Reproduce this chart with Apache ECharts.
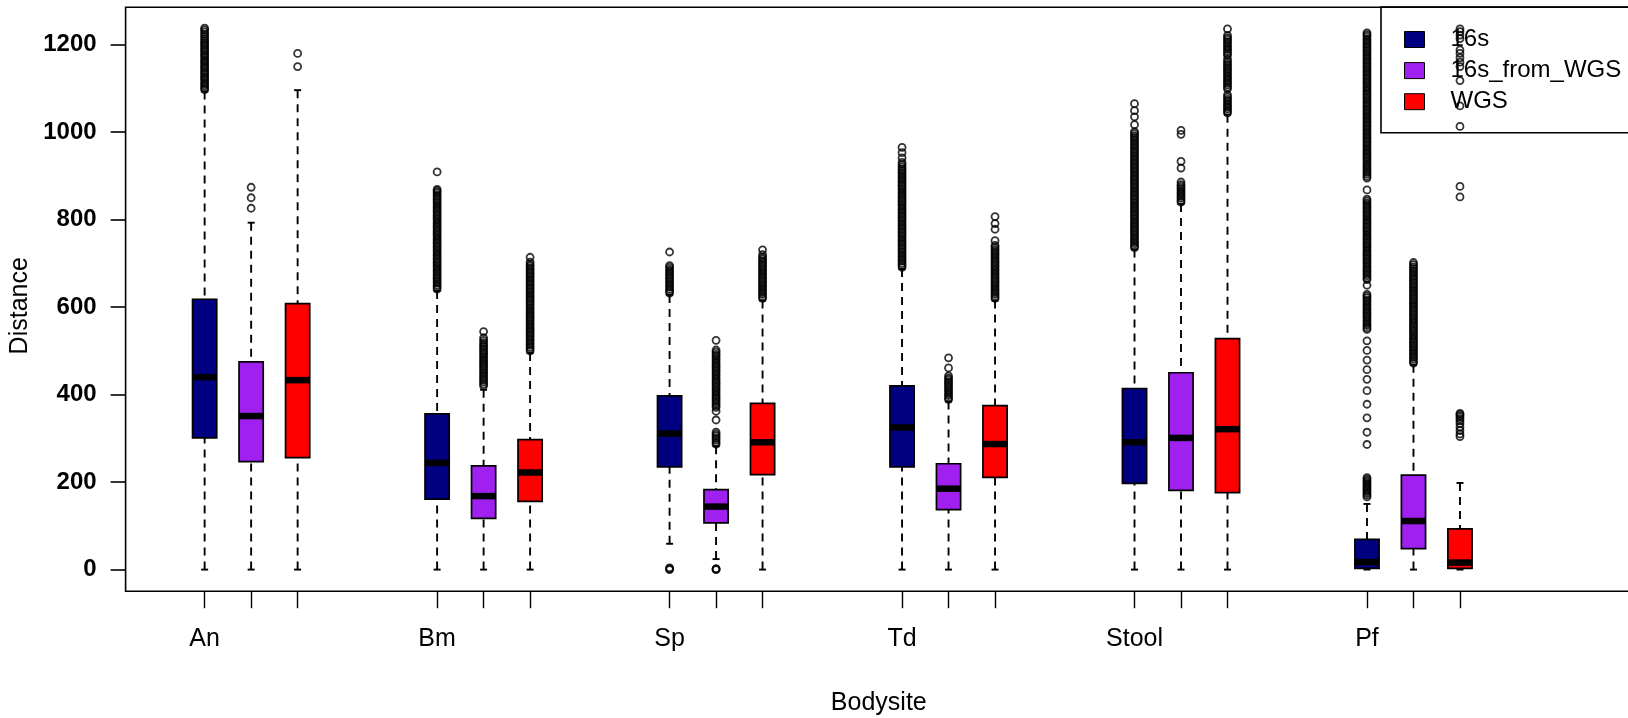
<!DOCTYPE html>
<html>
<head>
<meta charset="utf-8">
<title>Distance by Bodysite</title>
<script src="https://cdn.jsdelivr.net/npm/echarts@6/dist/echarts.min.js"></script>
<style>
  html, body { margin: 0; padding: 0; background: #fff; }
  #chart { width: 1628px; height: 718px; }
</style>
</head>
<body>
<div id="chart"></div>
<script>
// ---- data -------------------------------------------------------------
const bodysites = ['An', 'Bm', 'Sp', 'Td', 'Stool', 'Pf'];
const methods = ['16s', '16s_from_WGS', 'WGS'];
const yTicks = [0, 200, 400, 600, 800, 1000, 1200];

// five-number summaries per bodysite: [lower whisker, Q1, median, Q3, upper whisker]
const stats16s = [
  [0, 301, 440, 618, 1093],
  [0, 161, 244, 356, 637],
  [59, 235, 311, 397, 628],
  [0, 235, 325, 420, 687],
  [0, 197, 291, 414, 732],
  [0, 3, 17, 69, 150]
];
const statsFromWgs = [
  [0, 247, 351, 475, 793],
  [0, 117, 168, 237, 411],
  [24, 107, 144, 183, 282],
  [0, 137, 185, 242, 384],
  [0, 181, 301, 450, 836],
  [0, 48, 111, 216, 468]
];
const statsWgs = [
  [0, 256, 433, 608, 1096],
  [0, 156, 222, 297, 495],
  [0, 217, 291, 380, 615],
  [0, 211, 287, 375, 615],
  [0, 176, 321, 528, 1040],
  [0, 3, 16, 93, 198]
];

// outlying distances per bodysite
const outliers16s = [
  [1097,1101,1106,1110,1114,1119,1123,1127,1132,1136,1140,1145,1149,1153,1158,1162,1166,1171,1175,1179,1184,1188,1192,1197,1201,1205,1210,1214,1219,1224,1229,1234,1238],
  [641,646,650,655,659,664,668,673,677,682,686,691,695,700,704,709,713,718,722,727,731,736,740,745,749,754,758,763,767,772,776,781,785,790,794,799,803,808,812,817,821,826,830,835,839,844,848,853,857,862,866,869,909],
  [0,2,4,632,637,641,646,650,655,659,664,668,673,677,682,686,691,695,726],
  [691,696,700,705,709,714,718,723,727,732,736,741,745,750,754,759,763,768,772,777,781,786,790,795,799,804,808,813,817,822,826,831,835,840,844,849,853,858,862,867,871,876,880,885,889,894,898,903,907,912,916,921,926,931,941,953,965],
  [736,740,745,749,754,758,763,767,772,776,781,785,790,794,799,803,808,812,817,821,826,830,835,839,844,848,853,857,862,866,871,875,880,884,889,893,898,902,907,911,916,920,925,929,934,938,943,947,952,956,961,965,970,974,979,983,988,992,997,1001,1017,1035,1049,1065],
  [166,170,174,178,182,186,190,194,198,202,206,210,
   286,314,347,378,409,435,457,479,501,523,
   549,553,558,562,567,571,576,580,585,589,594,598,603,607,612,616,621,625,629,650,
   663,667,672,676,681,685,690,694,699,703,708,712,717,721,726,730,735,739,744,748,753,757,762,766,771,775,780,784,789,793,798,802,807,811,816,820,825,829,834,838,843,847,868,
   895,899,904,908,913,917,922,926,931,935,940,944,949,953,958,962,967,971,976,980,985,989,994,998,1003,1007,1012,1016,1021,1025,1030,1034,1039,1043,1048,1052,1057,1061,1066,1070,1075,1079,1084,1088,1093,1097,1102,1106,1111,1115,1120,1124,1129,1133,1138,1142,1147,1151,1156,1160,1165,1169,1174,1178,1183,1187,1192,1196,1201,1205,1210,1214,1219,1223,1227]
];
const outliersFromWgs = [
  [826,850,874],
  [420,424,429,433,438,442,447,451,456,460,465,469,474,478,483,487,492,496,501,505,510,514,519,524,530,544],
  [0,1,2,287,291,296,300,305,309,314,342,362,371,375,380,384,389,393,398,402,407,411,416,420,425,429,434,438,443,447,452,456,461,465,470,474,479,483,488,492,497,502,524],
  [389,393,398,402,407,411,416,420,425,429,434,438,443,461,484],
  [840,844,849,853,858,862,867,871,876,880,886,918,933,995,1004],
  [472,476,481,485,490,494,499,503,508,512,517,521,526,530,535,539,544,548,553,557,562,566,571,575,580,584,589,593,598,602,607,611,616,620,625,629,634,638,643,647,652,656,661,665,670,674,679,683,688,692,697,702]
];
const outliersWgs = [
  [1150,1180],
  [500,505,509,514,518,523,527,532,536,541,545,550,554,559,563,568,572,577,581,586,590,595,599,604,608,613,617,622,626,631,635,640,644,649,653,658,662,667,671,676,680,685,689,694,698,703,714],
  [620,624,629,633,638,642,647,651,656,660,665,669,674,678,683,687,692,696,701,705,710,714,720,731],
  [620,624,629,633,638,642,647,651,656,660,665,669,674,678,683,687,692,696,701,705,710,714,719,723,728,732,737,741,752,778,791,807],
  [1044,1048,1053,1057,1062,1066,1071,1075,1080,1085,1099,1103,1108,1112,1117,1121,1126,1130,1135,1139,1144,1148,1153,1157,1162,1167,1176,1180,1185,1189,1194,1198,1203,1207,1212,1216,1221,1236],
  [304,310,318,326,334,340,345,350,354,357,852,876,1013,1060,1118,1150,1160,1170,1180,1188,1214,1222,1230,1236]
];

const allStats = [stats16s, statsFromWgs, statsWgs];
const allOutliers = [outliers16s, outliersFromWgs, outliersWgs];

// ---- layout & style -----------------------------------------------------
const colors = ['#000080', '#A020F0', '#FF0000'];
const GROUP_STEP = 5;        // boxes one unit apart, bodysites five units apart
const BOX_WIDTH = 0.52;      // in x-axis units
const FONT = "'Liberation Sans', Arial, Helvetica, sans-serif";

const positionOf = (siteIdx, methodIdx) => siteIdx * GROUP_STEP + methodIdx + 1;
const tickPositions = [];
bodysites.forEach((_, s) => methods.forEach((__, m) => tickPositions.push(positionOf(s, m))));
const labelPositions = bodysites.map((_, s) => positionOf(s, 0));

function renderBox(params, api) {
  const x = api.value(0);
  const lo = api.coord([x, api.value(1)]);
  const q1 = api.coord([x, api.value(2)]);
  const med = api.coord([x, api.value(3)]);
  const q3 = api.coord([x, api.value(4)]);
  const hi = api.coord([x, api.value(5)]);
  const half = api.size([BOX_WIDTH, 0])[0] / 2;
  const cap = 3.5;
  const dashed = { stroke: '#000', lineWidth: 1.9, lineDash: [8, 6] };
  const solid = { stroke: '#000', lineWidth: 1.9 };
  return {
    type: 'group',
    children: [
      { type: 'line', shape: { x1: lo[0], y1: lo[1], x2: lo[0], y2: q1[1] }, style: dashed },
      { type: 'line', shape: { x1: hi[0], y1: hi[1], x2: hi[0], y2: q3[1] }, style: dashed },
      { type: 'line', shape: { x1: lo[0] - cap, y1: lo[1], x2: lo[0] + cap, y2: lo[1] }, style: solid },
      { type: 'line', shape: { x1: hi[0] - cap, y1: hi[1], x2: hi[0] + cap, y2: hi[1] }, style: solid },
      { type: 'rect', shape: { x: q3[0] - half, y: q3[1], width: 2 * half, height: q1[1] - q3[1] },
        style: { fill: api.visual('color'), stroke: '#000', lineWidth: 1.7 } },
      { type: 'line', shape: { x1: med[0] - half, y1: med[1], x2: med[0] + half, y2: med[1] },
        style: { stroke: '#000', lineWidth: 6.5 } }
    ]
  };
}

const series = [];
methods.forEach((name, m) => {
  series.push({
    name: name,
    type: 'custom',
    z: 2,
    silent: true,
    itemStyle: { color: colors[m] },
    renderItem: renderBox,
    encode: { x: 0, y: [1, 2, 3, 4, 5] },
    data: allStats[m].map((s, i) => [positionOf(i, m)].concat(s))
  });
});
methods.forEach((name, m) => {
  const pts = [];
  allOutliers[m].forEach((vals, i) => vals.forEach(v => pts.push([positionOf(i, m), v])));
  series.push({
    name: name + ' outliers',
    type: 'scatter',
    z: 3,
    silent: true,
    symbol: 'circle',
    symbolSize: 7,
    itemStyle: { color: 'rgba(0,0,0,0)', borderColor: '#000', borderWidth: 1.8 },
    data: pts
  });
});

const chart = echarts.init(document.getElementById('chart'), null, { renderer: 'canvas' });
chart.setOption({
  animation: false,
  backgroundColor: '#fff',
  textStyle: { fontFamily: FONT, color: '#000' },
  grid: {
    left: 125.6, top: 7.3, width: 1506.4, height: 583.9,
    show: true, borderColor: '#000', borderWidth: 1.6,
    containLabel: false, outerBoundsMode: 'none'
  },
  legend: {
    data: methods,
    orient: 'vertical',
    left: 1381, top: 7,
    z: 1,
    selectedMode: false,
    icon: 'rect',
    itemWidth: 20, itemHeight: 16, itemGap: 7.1,
    padding: [20.5, 60, 19, 23],
    borderColor: '#000', borderWidth: 1.6,
    backgroundColor: 'transparent',
    itemStyle: { borderColor: '#000', borderWidth: 1 },
    textStyle: { fontFamily: FONT, fontSize: 24, color: '#000', padding: [0, 0, 0, 21] }
  },
  xAxis: {
    type: 'value',
    min: -0.7, max: 31.7,
    name: 'Bodysite',
    nameLocation: 'middle',
    nameGap: 99,
    nameTextStyle: { fontFamily: FONT, fontSize: 25, color: '#000' },
    axisLine: { show: false, onZero: false },
    splitLine: { show: false },
    axisTick: { show: true, length: 17, customValues: tickPositions, lineStyle: { color: '#000', width: 1.4 } },
    axisLabel: {
      customValues: labelPositions,
      margin: 35,
      fontSize: 25,
      color: '#000',
      fontFamily: FONT,
      formatter: v => bodysites[Math.round((v - 1) / GROUP_STEP)]
    }
  },
  yAxis: {
    type: 'value',
    min: -49.4, max: 1285.4,
    name: 'Distance',
    nameLocation: 'middle',
    nameGap: 66,
    nameTextStyle: { fontFamily: FONT, fontSize: 25, color: '#000', padding: [0, 13, 0, 0] },
    axisLine: { show: false, onZero: false },
    splitLine: { show: false },
    axisTick: { show: true, length: 15, customValues: yTicks, lineStyle: { color: '#000', width: 1.6 } },
    axisLabel: {
      customValues: yTicks,
      margin: 29,
      fontSize: 24,
      fontWeight: 'bold',
      color: '#000',
      fontFamily: FONT,
      formatter: v => String(v)
    }
  },
  series: series
});
</script>
</body>
</html>
